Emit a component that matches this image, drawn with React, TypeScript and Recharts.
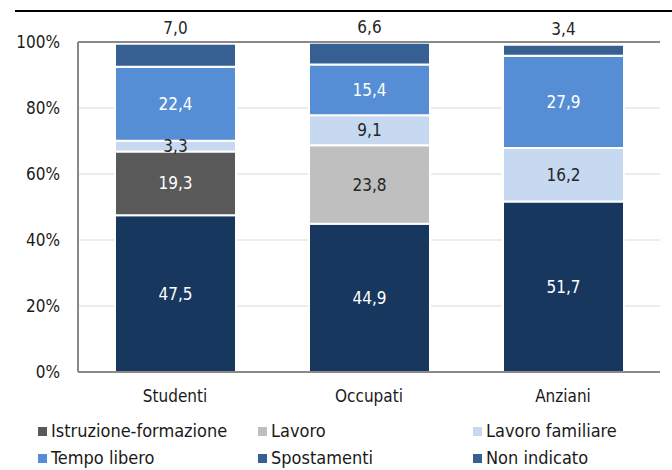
import React from 'react';
import { BarChart, Bar, XAxis, YAxis, CartesianGrid, LabelList, Legend, ReferenceLine } from 'recharts';

const categories = ['Studenti', 'Occupati', 'Anziani'];
const baseNavy = [47.5, 44.9, 51.7];
const istruzione = [19.3, 0, 0];
const lavoro = [0, 23.8, 0];
const lavoroFamiliare = [3.3, 9.1, 16.2];
const tempoLibero = [22.4, 15.4, 27.9];
const spostamenti = [7.0, 6.6, 3.4];
const yTicks = [0, 20, 40, 60, 80, 100];

const legendItems = [
  { name: 'Istruzione-formazione', color: '#595959' },
  { name: 'Lavoro', color: '#BFBFBF' },
  { name: 'Lavoro familiare', color: '#C6D9F1' },
  { name: 'Tempo libero', color: '#558ED5' },
  { name: 'Spostamenti', color: '#376092' },
  { name: 'Non indicato', color: '#376092' },
];

const data = categories.map((c, i) => ({
  name: c,
  base: baseNavy[i],
  istruzione: istruzione[i],
  lavoro: lavoro[i],
  lavoroFamiliare: lavoroFamiliare[i],
  tempoLibero: tempoLibero[i],
  spostamenti: spostamenti[i],
}));

const FONT = "'Liberation Sans Narrow', 'Arial Narrow', 'DejaVu Sans Condensed', sans-serif";
const fmt = (v: any) => (v ? Number(v).toFixed(1).replace('.', ',') : '');

const series = [
  { key: 'base', color: '#17375E', label: '#FFFFFF' },
  { key: 'istruzione', color: '#595959', label: '#FFFFFF' },
  { key: 'lavoro', color: '#BFBFBF', label: '#262626' },
  { key: 'lavoroFamiliare', color: '#C6D9F1', label: '#262626' },
  { key: 'tempoLibero', color: '#558ED5', label: '#FFFFFF' },
];

const LegendContent = () => {
  const cols = [38, 258, 473];
  return (
    <div style={{ position: 'relative', width: 672, height: 56, fontFamily: FONT }}>
      {legendItems.map((it, i) => {
        const col = i % 3;
        const row = Math.floor(i / 3);
        return (
          <div
            key={it.name}
            style={{
              position: 'absolute',
              left: cols[col],
              top: row * 27,
              display: 'flex',
              alignItems: 'center',
              fontSize: 18,
              color: '#1a1a1a',
              whiteSpace: 'nowrap',
              lineHeight: '24px',
            }}
          >
            <span style={{ display: 'inline-block', width: 9, height: 9, background: it.color, marginRight: 4 }} />
            {it.name}
          </div>
        );
      })}
    </div>
  );
};

export default function App() {
  return (
    <div style={{ position: 'absolute', left: 0, top: 0, width: 672, height: 470, background: '#fff' }}>
      <div style={{ position: 'absolute', left: 15, top: 10, width: 657, height: 2, background: '#000' }} />
      <BarChart
        width={672}
        height={470}
        data={data}
        margin={{ top: 42, right: 12, left: 8, bottom: 2 }}
        barSize={121}
        style={{ fontFamily: FONT }}
      >
        <CartesianGrid vertical={false} stroke="#D9D9D9" strokeWidth={1} />
        <XAxis
          dataKey="name"
          axisLine={{ stroke: '#898989', strokeWidth: 2 }}
          tickLine={false}
          tickSize={0}
          tickMargin={18}
          tick={{ fill: '#1a1a1a', fontSize: 17, fontFamily: FONT }}
          height={40}
        />
        <YAxis
          domain={[0, 100]}
          ticks={yTicks}
          width={70}
          axisLine={{ stroke: '#898989', strokeWidth: 2 }}
          tickLine={false}
          tickSize={0}
          tickMargin={18}
          tickFormatter={(v: number) => `${v}%`}
          tick={{ fill: '#1a1a1a', fontSize: 17, fontFamily: FONT }}
          allowDataOverflow
        />
        <YAxis
          yAxisId="right"
          orientation="right"
          width={0}
          domain={[0, 100]}
          axisLine={{ stroke: '#898989', strokeWidth: 2 }}
          tick={false}
          tickLine={false}
        />
        <ReferenceLine y={100} stroke="#898989" strokeWidth={2} />
        {series.map((s) => (
          <Bar key={s.key} dataKey={s.key} stackId="a" fill={s.color} stroke="#FFFFFF" strokeWidth={2} isAnimationActive={false}>
            <LabelList dataKey={s.key} position="center" formatter={fmt} fill={s.label} fontSize={17} fontFamily={FONT} />
          </Bar>
        ))}
        <Bar dataKey="spostamenti" stackId="a" fill="#376092" stroke="#FFFFFF" strokeWidth={2} isAnimationActive={false}>
          <LabelList dataKey="spostamenti" position="top" offset={10} formatter={fmt} fill="#262626" fontSize={17} fontFamily={FONT} />
        </Bar>
        <Legend content={<LegendContent />} wrapperStyle={{ position: 'absolute', left: 0, top: 419, width: 672 }} />
      </BarChart>
    </div>
  );
}
